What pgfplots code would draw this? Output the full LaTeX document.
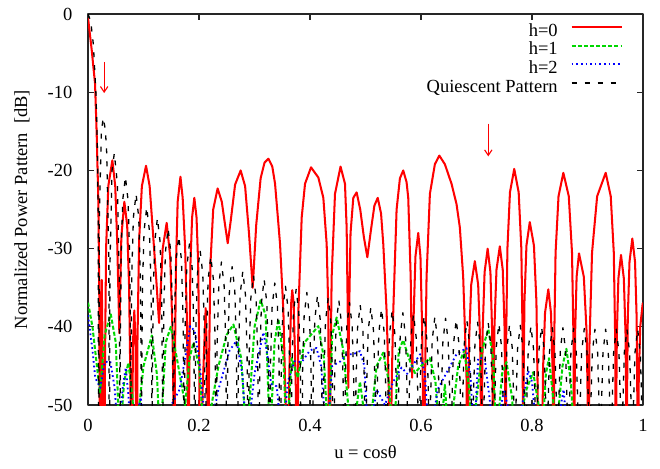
\documentclass[border=0pt]{standalone}
\usepackage{fontspec}
\setmainfont{Liberation Serif}
\usepackage{pgfplots}
\pgfplotsset{compat=1.18}
\usetikzlibrary{arrows.meta}
\definecolor{gpred}{RGB}{255,0,0}
\definecolor{gpgreen}{RGB}{0,215,0}
\definecolor{gpblue}{RGB}{0,0,255}
\begin{document}
\begin{tikzpicture}
\useasboundingbox (-47.6pt,-34.05pt) rectangle (309.2pt,219.0pt);
\begin{axis}[
  at={(0,0)}, anchor=south west,
  scale only axis, width=300pt, height=211.4pt,
  xmin=0, xmax=1, ymin=-50, ymax=0,
  xtick={0,0.2,0.4,0.6,0.8,1}, ytick={-50,-40,-30,-20,-10,0},
  tick align=inside, tick pos=both,
  major tick length=3pt,
  axis line style={line width=0.8pt, black!85},
  every tick/.style={black!85, line width=0.6pt},
  /pgf/number format/assume math mode=true,
  xticklabel style={yshift=-4pt},
  yticklabel style={xshift=-5pt},
  xlabel={u = cosθ}, ylabel={Normalized Power Pattern\ \ [dB]},
  xlabel style={at={(axis description cs:0.5,-0.12)}, anchor=center},
  ylabel style={at={(axis description cs:-0.119,0.5)}, anchor=center},
  legend plot pos=right, legend cell align=right,
  legend style={draw=none, fill=none, at={(axis description cs:1,1)}, anchor=north east,
    xshift=-10.8pt, yshift=-4.2pt, inner sep=0pt, row sep=0pt, column sep=7pt,
    nodes={inner sep=0pt, text height=7.5pt, text depth=2.6pt}},
  legend image code/.code={\draw[#1] (0pt,2.5pt) -- (27pt,2.5pt);},
  line join=round,
]
% h=0
\addplot[gpred, line width=1.1pt] coordinates {
(0,-0.5) (0.0066,-4.6) (0.0126,-8.9) (0.0156,-15.4) (0.0186,-24) (0.0205,-38) (0.0216,-70)
(0.0235,-40) (0.0247,-34) (0.026,-42) (0.029,-70)
(0.0305,-45) (0.0325,-30) (0.0365,-22) (0.0438,-18.7) (0.049,-22) (0.0525,-29) (0.0564,-40.8)
(0.060,-28.5) (0.0654,-24) (0.0705,-27) (0.074,-35) (0.0765,-48) (0.0775,-70)
(0.081,-42) (0.0834,-37.9) (0.0855,-42) (0.0877,-70)
(0.089,-42) (0.092,-29) (0.097,-22) (0.1045,-19.4) (0.111,-22) (0.117,-28) (0.123,-34) (0.128,-39.5)
(0.1345,-30) (0.1417,-26.7) (0.148,-31) (0.152,-40) (0.1545,-52) (0.1555,-70)
(0.1565,-45) (0.1585,-32) (0.1615,-24) (0.1665,-20.8) (0.1705,-23.5) (0.175,-30) (0.1785,-40) (0.1805,-55) (0.181,-70)
(0.1825,-45) (0.1845,-32) (0.1875,-26) (0.1915,-23.5) (0.1955,-26) (0.1985,-32) (0.2005,-45) (0.2018,-70)
(0.2065,-48) (0.212,-37.6) (0.2145,-45) (0.2168,-70)
(0.218,-45) (0.2205,-32) (0.2255,-25) (0.2335,-22.3) (0.241,-24) (0.247,-27) (0.2517,-29.3) (0.257,-26.5) (0.265,-21.8) (0.275,-20.0) (0.283,-22) (0.29,-28) (0.2967,-35.0) (0.303,-27) (0.311,-21) (0.318,-19) (0.325,-18.5) (0.332,-19.5) (0.337,-21.7) (0.346,-29.4) (0.352,-38) (0.356,-50) (0.358,-70)
(0.363,-45) (0.366,-37) (0.368,-35.3) (0.3705,-37) (0.3745,-48) (0.377,-70)
(0.379,-38) (0.385,-26) (0.391,-21.7) (0.4018,-19.6) (0.415,-20.9) (0.424,-23.5) (0.430,-29.4) (0.433,-38) (0.4348,-70)
(0.437,-45) (0.439,-33.6) (0.445,-23) (0.455,-19.5) (0.463,-21.7) (0.466,-27.3) (0.468,-38) (0.469,-47.8) (0.4705,-38) (0.473,-28) (0.478,-23.5) (0.484,-22.8) (0.4905,-25) (0.497,-28.5) (0.5033,-31.1) (0.51,-27.5) (0.516,-24.5) (0.522,-23.5) (0.528,-25.5) (0.532,-29.4) (0.538,-38) (0.542,-48) (0.544,-70)
(0.547,-48) (0.550,-38) (0.556,-25) (0.562,-21) (0.568,-20) (0.574,-21.5) (0.577,-23.5) (0.5814,-33.6) (0.584,-46.5) (0.587,-38) (0.590,-31) (0.595,-28) (0.599,-31) (0.602,-40) (0.604,-52) (0.605,-70)
(0.607,-48) (0.610,-33.6) (0.616,-23) (0.625,-19.2) (0.633,-18.1) (0.643,-19.2) (0.655,-21.7) (0.664,-24.3) (0.670,-27.3) (0.676,-33.6) (0.682,-46.4) (0.684,-70)
(0.6847,-53.7) (0.6866,-41.8) (0.6905,-34.6) (0.697,-31.6) (0.703,-34.6) (0.7066,-41.8) (0.7084,-53.7) (0.709,-70)
(0.7096,-52.1) (0.7112,-40.2) (0.7146,-33) (0.7201,-30) (0.7251,-33) (0.728,-40.2) (0.7295,-52.1) (0.730,-70)
(0.7306,-51.8) (0.7324,-39.9) (0.736,-32.7) (0.742,-29.7) (0.7473,-32.7) (0.7505,-39.9) (0.7521,-51.8) (0.7526,-70)
(0.7534,-41.9) (0.7557,-30) (0.7603,-22.8) (0.768,-19.8) (0.776,-22.8) (0.7808,-30) (0.7832,-41.9) (0.784,-70)
(0.7846,-48.7) (0.7864,-36.8) (0.790,-29.6) (0.796,-26.6) (0.8035,-29.6) (0.808,-36.8) (0.8103,-48.7) (0.811,-70)
(0.8175,-70) (0.8181,-57.3) (0.8199,-45.4) (0.8235,-38.2) (0.8294,-35.2) (0.8342,-38.2) (0.8371,-45.4) (0.8385,-57.3) (0.839,-70)
(0.8399,-42.4) (0.8425,-30.5) (0.8478,-23.3) (0.8565,-20.3) (0.8663,-23.3) (0.8721,-30.5) (0.875,-42.4) (0.876,-70)
(0.8764,-52.7) (0.8777,-40.8) (0.8804,-33.6) (0.8847,-30.6) (0.8934,-33.6) (0.8985,-40.8) (0.9011,-52.7) (0.902,-70)
(0.9035,-42.4) (0.9082,-30.5) (0.9174,-23.3) (0.9328,-20.3) (0.9419,-23.3) (0.9474,-30.5) (0.9501,-42.4) (0.951,-70)
(0.9515,-52.9) (0.9529,-41) (0.9557,-33.8) (0.9604,-30.8) (0.9655,-33.8) (0.9686,-41) (0.9701,-52.9) (0.9706,-70)
(0.9711,-50.8) (0.9726,-38.9) (0.9757,-31.7) (0.9808,-28.7) (0.9857,-31.7) (0.9886,-38.9) (0.99,-50.8) (0.9905,-70)
(0.991,-59) (0.9923,-47.2) (0.995,-40) (0.9995,-37) (1.0,-37.1)
};
\addlegendentry{h=0}
% h=1
\addplot[gpgreen, line width=1.1pt, dash pattern=on 2.2pt off 1.1pt] coordinates {
(0,-36.9) (0.008,-40) (0.016,-45) (0.0216,-48.5) (0.03,-41) (0.041,-38.4) (0.05,-42) (0.057,-55) (0.065,-47) (0.0727,-44.6) (0.08,-49) (0.085,-55) (0.1,-45) (0.115,-41.1) (0.124,-46) (0.130,-55) (0.14,-42) (0.149,-40.0) (0.16,-44) (0.175,-50) (0.183,-44) (0.19,-42) (0.2,-45) (0.21,-55) (0.235,-45) (0.25,-41) (0.262,-39.7) (0.276,-44) (0.286,-55) (0.30,-40) (0.311,-36.6) (0.320,-38.5) (0.328,-55) (0.336,-42) (0.343,-39.0) (0.352,-44) (0.358,-55) (0.367,-44) (0.378,-46.5) (0.39,-42) (0.415,-39.9) (0.425,-44) (0.433,-55) (0.44,-41) (0.448,-38.8) (0.46,-43) (0.475,-55) (0.49,-47) (0.505,-55) (0.52,-45) (0.532,-43.3) (0.542,-47) (0.550,-55) (0.56,-43) (0.568,-41.7) (0.578,-44) (0.589,-45.9) (0.60,-45) (0.616,-44) (0.626,-47) (0.634,-55) (0.643,-47.4) (0.65,-55) (0.667,-45) (0.678,-43) (0.687,-48) (0.691,-55) (0.71,-43) (0.7213,-40.3) (0.73,-44) (0.736,-55) (0.746,-46) (0.754,-44.5) (0.764,-49) (0.769,-55) (0.79,-48) (0.802,-45.8) (0.812,-50) (0.818,-55) (0.825,-46) (0.8306,-44) (0.838,-49) (0.842,-55) (0.855,-45) (0.862,-42.8) (0.870,-47) (0.877,-55) (0.9,-60)
};
\addlegendentry{h=1}
% h=2
\addplot[gpblue, line width=1.0pt, dash pattern=on 0.9pt off 1.6pt] coordinates {
(0,-38.5) (0.008,-43) (0.013,-46.5) (0.022,-47.8) (0.03,-44.5) (0.04,-44.4) (0.048,-47.8) (0.055,-55) (0.062,-48) (0.068,-45.2) (0.073,-49) (0.078,-55) (0.095,-49) (0.105,-55) (0.13,-55) (0.15,-50) (0.165,-48) (0.175,-44) (0.184,-39.9) (0.192,-40.5) (0.2,-44) (0.208,-50) (0.215,-55) (0.235,-48) (0.255,-43) (0.2676,-41.8) (0.278,-46) (0.286,-55) (0.30,-46) (0.316,-40.7) (0.322,-43) (0.33,-47.3) (0.34,-47.6) (0.35,-55) (0.36,-47) (0.372,-44.4) (0.385,-44.5) (0.40,-43) (0.4117,-42.7) (0.42,-45) (0.43,-55) (0.44,-45) (0.455,-44.4) (0.466,-43.5) (0.478,-43.5) (0.49,-43.1) (0.498,-45) (0.505,-55) (0.52,-48) (0.535,-50) (0.55,-47) (0.565,-45.2) (0.575,-46) (0.5985,-43.5) (0.607,-46) (0.615,-55) (0.63,-48) (0.645,-46) (0.664,-43.5) (0.682,-42.7) (0.69,-47) (0.695,-55) (0.703,-44) (0.7147,-44) (0.725,-50) (0.73,-55) (0.75,-48) (0.77,-55) (0.793,-45.6) (0.80,-47) (0.81,-55) (0.84,-55) (0.857,-48) (0.865,-55)
};
\addlegendentry{h=2}
% quiescent
\addplot[black, line width=0.7pt, dash pattern=on 2.7pt off 4.3pt] coordinates {
(0,0) (0.00481,-0.91) (0.00962,-3.92) (0.01442,-10.45) (0.01683,-17.1) (0.01827,-25.6) (0.01923,-70)
(0.02019,-26.5) (0.02404,-14.9) (0.0275,-13.26) (0.03125,-14.85) (0.03365,-17.8) (0.0375,-31.9) (0.03846,-70)
(0.03942,-32.3) (0.04327,-20.0) (0.04731,-17.8) (0.05288,-21.7) (0.05673,-35.5) (0.05769,-70)
(0.05817,-42.9) (0.05961,-31.0) (0.0625,-23.8) (0.06731,-20.8) (0.07211,-23.8) (0.075,-31.0) (0.07644,-42.9) (0.07692,-70)
(0.0774,-45.1) (0.07884,-33.2) (0.08173,-26.0) (0.08654,-23.0) (0.09134,-26.0) (0.09423,-33.2) (0.09567,-45.1) (0.09615,-70)
(0.09663,-46.8) (0.09807,-34.9) (0.10096,-27.7) (0.10577,-24.7) (0.11057,-27.7) (0.11346,-34.9) (0.1149,-46.8) (0.11538,-70)
(0.11586,-48.2) (0.1173,-36.3) (0.12019,-29.1) (0.125,-26.1) (0.1298,-29.1) (0.13269,-36.3) (0.13413,-48.2) (0.13462,-70)
(0.1351,-49.5) (0.13654,-37.6) (0.13943,-30.4) (0.14424,-27.4) (0.14904,-30.4) (0.15193,-37.6) (0.15337,-49.5) (0.15385,-70)
(0.15433,-50.5) (0.15577,-38.6) (0.15866,-31.4) (0.16347,-28.4) (0.16827,-31.4) (0.17116,-38.6) (0.1726,-50.5) (0.17308,-70)
(0.17356,-51.5) (0.175,-39.6) (0.17789,-32.4) (0.1827,-29.4) (0.1875,-32.4) (0.19039,-39.6) (0.19183,-51.5) (0.19231,-70)
(0.19279,-52.3) (0.19423,-40.4) (0.19712,-33.2) (0.20193,-30.2) (0.20673,-33.2) (0.20962,-40.4) (0.21106,-52.3) (0.21154,-70)
(0.21202,-53.1) (0.21346,-41.2) (0.21635,-34.0) (0.22116,-31.0) (0.22596,-34.0) (0.22885,-41.2) (0.23029,-53.1) (0.23077,-70)
(0.23125,-53.8) (0.23269,-41.9) (0.23558,-34.7) (0.24039,-31.7) (0.24519,-34.7) (0.24808,-41.9) (0.24952,-53.8) (0.25,-70)
(0.25048,-54.4) (0.25192,-42.5) (0.25481,-35.3) (0.25962,-32.3) (0.26442,-35.3) (0.26731,-42.5) (0.26875,-54.4) (0.26923,-70)
(0.26971,-55.0) (0.27115,-43.1) (0.27404,-35.9) (0.27885,-32.9) (0.28365,-35.9) (0.28654,-43.1) (0.28798,-55.0) (0.28846,-70)
(0.28894,-55.5) (0.29038,-43.6) (0.29327,-36.4) (0.29808,-33.4) (0.30288,-36.4) (0.30577,-43.6) (0.30721,-55.5) (0.30769,-70)
(0.30817,-56.0) (0.30961,-44.1) (0.3125,-36.9) (0.31731,-33.9) (0.32211,-36.9) (0.325,-44.1) (0.32644,-56.0) (0.32692,-70)
(0.32884,-44.6) (0.33173,-37.4) (0.33654,-34.4) (0.34134,-37.4) (0.34423,-44.6) (0.34615,-70)
(0.34807,-45.0) (0.35096,-37.8) (0.35577,-34.8) (0.36057,-37.8) (0.36346,-45.0) (0.36538,-70)
(0.3673,-45.4) (0.37019,-38.2) (0.375,-35.2) (0.3798,-38.2) (0.38269,-45.4) (0.38462,-70)
(0.38654,-45.8) (0.38943,-38.6) (0.39424,-35.6) (0.39904,-38.6) (0.40193,-45.8) (0.40385,-70)
(0.40577,-46.2) (0.40866,-39.0) (0.41347,-36.0) (0.41827,-39.0) (0.42116,-46.2) (0.42308,-70)
(0.425,-46.5) (0.42789,-39.3) (0.4327,-36.3) (0.4375,-39.3) (0.44039,-46.5) (0.44231,-70)
(0.44423,-46.8) (0.44712,-39.6) (0.45193,-36.6) (0.45673,-39.6) (0.45962,-46.8) (0.46154,-70)
(0.46346,-47.1) (0.46635,-39.9) (0.47116,-36.9) (0.47596,-39.9) (0.47885,-47.1) (0.48077,-70)
(0.48269,-47.4) (0.48558,-40.2) (0.49039,-37.2) (0.49519,-40.2) (0.49808,-47.4) (0.5,-70)
(0.50192,-47.7) (0.50481,-40.5) (0.50962,-37.5) (0.51442,-40.5) (0.51731,-47.7) (0.51923,-70)
(0.52115,-47.9) (0.52404,-40.7) (0.52885,-37.7) (0.53365,-40.7) (0.53654,-47.9) (0.53846,-70)
(0.54038,-48.1) (0.54327,-40.9) (0.54808,-37.9) (0.55288,-40.9) (0.55577,-48.1) (0.55769,-70)
(0.55961,-48.4) (0.5625,-41.2) (0.56731,-38.2) (0.57211,-41.2) (0.575,-48.4) (0.57692,-70)
(0.57884,-48.6) (0.58173,-41.4) (0.58654,-38.4) (0.59134,-41.4) (0.59423,-48.6) (0.59615,-70)
(0.59807,-48.8) (0.60096,-41.6) (0.60577,-38.6) (0.61057,-41.6) (0.61346,-48.8) (0.61538,-70)
(0.6173,-48.9) (0.62019,-41.7) (0.625,-38.7) (0.6298,-41.7) (0.63269,-48.9) (0.63462,-70)
(0.63654,-49.1) (0.63943,-41.9) (0.64424,-38.9) (0.64904,-41.9) (0.65193,-49.1) (0.65385,-70)
(0.65577,-49.3) (0.65866,-42.1) (0.66347,-39.1) (0.66827,-42.1) (0.67116,-49.3) (0.67308,-70)
(0.675,-49.4) (0.67789,-42.2) (0.6827,-39.2) (0.6875,-42.2) (0.69039,-49.4) (0.69231,-70)
(0.69423,-49.6) (0.69712,-42.4) (0.70193,-39.4) (0.70673,-42.4) (0.70962,-49.6) (0.71154,-70)
(0.71346,-49.7) (0.71635,-42.5) (0.72116,-39.5) (0.72596,-42.5) (0.72885,-49.7) (0.73077,-70)
(0.73269,-49.8) (0.73558,-42.6) (0.74039,-39.6) (0.74519,-42.6) (0.74808,-49.8) (0.75,-70)
(0.75192,-49.9) (0.75481,-42.7) (0.75962,-39.7) (0.76442,-42.7) (0.76731,-49.9) (0.76923,-70)
(0.77115,-50.0) (0.77404,-42.8) (0.77885,-39.8) (0.78365,-42.8) (0.78654,-50.0) (0.78846,-70)
(0.79038,-50.1) (0.79327,-42.9) (0.79808,-39.9) (0.80288,-42.9) (0.80577,-50.1) (0.80769,-70)
(0.80961,-50.2) (0.8125,-43.0) (0.81731,-40.0) (0.82211,-43.0) (0.825,-50.2) (0.82692,-70)
(0.82884,-50.3) (0.83173,-43.1) (0.83654,-40.1) (0.84134,-43.1) (0.84423,-50.3) (0.84615,-70)
(0.84807,-50.3) (0.85096,-43.1) (0.85577,-40.1) (0.86057,-43.1) (0.86346,-50.3) (0.86538,-70)
(0.8673,-50.4) (0.87019,-43.2) (0.875,-40.2) (0.8798,-43.2) (0.88269,-50.4) (0.88462,-70)
(0.88654,-50.4) (0.88943,-43.2) (0.89424,-40.2) (0.89904,-43.2) (0.90193,-50.4) (0.90385,-70)
(0.90577,-50.5) (0.90866,-43.3) (0.91347,-40.3) (0.91827,-43.3) (0.92116,-50.5) (0.92308,-70)
(0.925,-50.5) (0.92789,-43.3) (0.9327,-40.3) (0.9375,-43.3) (0.94039,-50.5) (0.94231,-70)
(0.94423,-50.5) (0.94712,-43.3) (0.95193,-40.3) (0.95673,-43.3) (0.95962,-50.5) (0.96154,-70)
(0.96346,-50.5) (0.96635,-43.3) (0.97116,-40.3) (0.97596,-43.3) (0.97885,-50.5) (0.98077,-70)
(0.98269,-50.5) (0.98558,-43.3) (0.99039,-40.3) (0.99519,-43.3) (0.99808,-50.5) (1.0,-70)
};
\addlegendentry{Quiescent Pattern}
% arrows
\addplot[gpred, line width=0.6pt, -{Straight Barb[length=3pt,width=4pt]}, forget plot] coordinates {(0.029,-6.1) (0.029,-10.1)};
\addplot[gpred, line width=0.6pt, -{Straight Barb[length=3pt,width=4pt]}, forget plot] coordinates {(0.7213,-14.0) (0.7213,-18.2)};
\end{axis}
\end{tikzpicture}
\end{document}
